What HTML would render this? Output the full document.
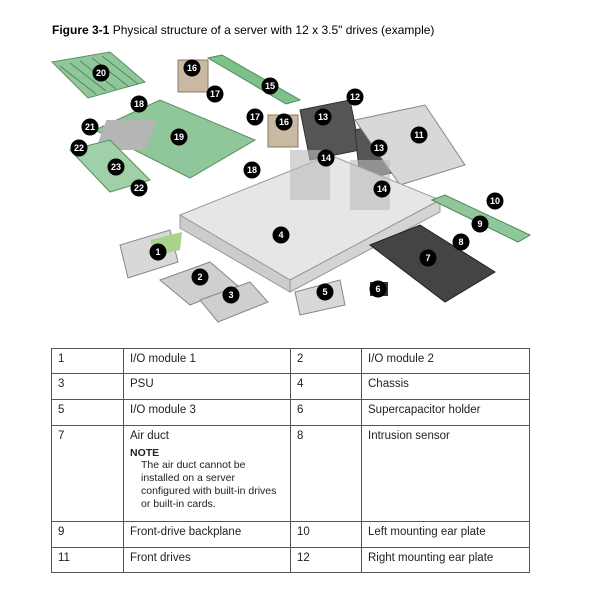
<!DOCTYPE html>
<html><head><style>
body{margin:0;background:#fff;width:600px;height:600px;overflow:hidden;font-family:"Liberation Sans",Arial,sans-serif;}
.t{position:absolute;left:52px;top:23px;font-size:12px;color:#000}
table{position:absolute;left:51px;top:348px;border-collapse:collapse;font-size:11.5px;color:#222;table-layout:fixed;width:478px}
td{border:1px solid #555;padding:4px 6px 0 6px;vertical-align:top;height:20px;box-sizing:border-box;white-space:nowrap;overflow:hidden}
</style></head><body>
<div class="t"><b>Figure 3-1</b> Physical structure of a server with 12 x 3.5" drives (example)</div>
<svg width="600" height="600" style="position:absolute;left:0;top:0">
<polygon points="52,62 110,52 145,82 88,98" fill="#8fc79a" stroke="#5a8f62"/>
<g stroke="#4d8a57" stroke-width="1"><line x1="60" y1="66" x2="96" y2="94"/><line x1="70" y1="63" x2="106" y2="91"/><line x1="80" y1="61" x2="116" y2="89"/><line x1="92" y1="58" x2="128" y2="86"/><line x1="102" y1="56" x2="138" y2="84"/></g>
<rect x="178" y="60" width="30" height="32" fill="#c9b9a3" stroke="#8a7a66"/>
<rect x="268" y="115" width="30" height="32" fill="#c9b9a3" stroke="#8a7a66"/>
<polygon points="208,58 222,55 300,100 286,104" fill="#7cc08a" stroke="#4d8a57"/>
<polygon points="95,130 160,100 255,140 190,178" fill="#8fc79a" stroke="#5a8f62"/>
<rect x="150" y="120" width="50" height="30" fill="#b5b5b5" transform="skewX(-20)"/>
<polygon points="70,150 110,140 150,180 110,192" fill="#9fd0a8" stroke="#5a8f62"/>
<polygon points="300,110 350,100 360,150 310,160" fill="#555" stroke="#333"/>
<polygon points="355,130 400,120 405,170 360,180" fill="#555" stroke="#333"/>
<polygon points="355,120 425,105 465,165 400,185" fill="#d8d8d8" stroke="#888"/>
<polygon points="180,215 330,155 440,200 290,280" fill="#e6e6e6" stroke="#999"/>
<polygon points="180,215 290,280 290,292 180,228" fill="#ccc" stroke="#999"/>
<polygon points="290,280 440,200 440,212 290,292" fill="#d4d4d4" stroke="#999"/>
<rect x="290" y="150" width="40" height="50" fill="#bbb" opacity=".6"/>
<rect x="350" y="160" width="40" height="50" fill="#bbb" opacity=".6"/>
<polygon points="432,200 445,195 530,235 518,242" fill="#8fc79a" stroke="#4d8a57"/>
<polygon points="370,245 420,225 495,272 445,302" fill="#444" stroke="#222"/>
<polygon points="120,245 170,230 178,262 128,278" fill="#d8d8d8" stroke="#888"/>
<polygon points="150,240 182,232 180,250 155,256" fill="#a9d38a"/>
<polygon points="160,280 210,262 238,286 190,305" fill="#cfcfcf" stroke="#888"/>
<polygon points="200,300 250,282 268,302 218,322" fill="#cfcfcf" stroke="#888"/>
<polygon points="295,292 340,280 345,305 300,315" fill="#d8d8d8" stroke="#888"/>
<rect x="370" y="282" width="18" height="14" fill="#333"/>
<g fill="#000">
<circle cx="101" cy="73" r="8.5"/><circle cx="192" cy="68" r="8.5"/><circle cx="270" cy="86" r="8.5"/><circle cx="215" cy="94" r="8.5"/><circle cx="139" cy="104" r="8.5"/><circle cx="355" cy="97" r="8.5"/><circle cx="323" cy="117" r="8.5"/><circle cx="255" cy="117" r="8.5"/><circle cx="284" cy="122" r="8.5"/><circle cx="419" cy="135" r="8.5"/><circle cx="90" cy="127" r="8.5"/><circle cx="179" cy="137" r="8.5"/><circle cx="79" cy="148" r="8.5"/><circle cx="379" cy="148" r="8.5"/><circle cx="326" cy="158" r="8.5"/><circle cx="116" cy="167" r="8.5"/><circle cx="252" cy="170" r="8.5"/><circle cx="382" cy="189" r="8.5"/><circle cx="139" cy="188" r="8.5"/><circle cx="495" cy="201" r="8.5"/><circle cx="480" cy="224" r="8.5"/><circle cx="281" cy="235" r="8.5"/><circle cx="461" cy="242" r="8.5"/><circle cx="158" cy="252" r="8.5"/><circle cx="428" cy="258" r="8.5"/><circle cx="200" cy="277" r="8.5"/><circle cx="231" cy="295" r="8.5"/><circle cx="325" cy="292" r="8.5"/><circle cx="378" cy="289" r="8.5"/>
</g>
<g font-size="9" font-weight="bold" fill="#fff" text-anchor="middle" font-family="Liberation Sans">
<text x="101" y="76">20</text><text x="192" y="71">16</text><text x="270" y="89">15</text><text x="215" y="97">17</text><text x="139" y="107">18</text><text x="355" y="100">12</text><text x="323" y="120">13</text><text x="255" y="120">17</text><text x="284" y="125">16</text><text x="419" y="138">11</text><text x="90" y="130">21</text><text x="179" y="140">19</text><text x="79" y="151">22</text><text x="379" y="151">13</text><text x="326" y="161">14</text><text x="116" y="170">23</text><text x="252" y="173">18</text><text x="382" y="192">14</text><text x="139" y="191">22</text><text x="495" y="204">10</text><text x="480" y="227">9</text><text x="281" y="238">4</text><text x="461" y="245">8</text><text x="158" y="255">1</text><text x="428" y="261">7</text><text x="200" y="280">2</text><text x="231" y="298">3</text><text x="325" y="295">5</text><text x="378" y="292">6</text>
</g>
</svg>
<table>
<colgroup><col style="width:72px"><col style="width:167px"><col style="width:71px"><col style="width:168px"></colgroup>
<tr style="height:25px"><td>1</td><td>I/O module 1</td><td>2</td><td>I/O module 2</td></tr>
<tr style="height:26px"><td>3</td><td>PSU</td><td>4</td><td>Chassis</td></tr>
<tr style="height:26px"><td>5</td><td>I/O module 3</td><td>6</td><td>Supercapacitor holder</td></tr>
<tr style="height:96px"><td>7</td><td>Air duct<div style="font-size:10.5px;font-weight:bold;margin-top:5px">NOTE</div><div style="font-size:10.5px;line-height:13px;margin-left:11px">The air duct cannot be<br>installed on a server<br>configured with built-in drives<br>or built-in cards.</div></td><td>8</td><td>Intrusion sensor</td></tr>
<tr style="height:26px"><td>9</td><td>Front-drive backplane</td><td>10</td><td>Left mounting ear plate</td></tr>
<tr style="height:25px"><td>11</td><td>Front drives</td><td>12</td><td>Right mounting ear plate</td></tr>
</table>
</body></html>
